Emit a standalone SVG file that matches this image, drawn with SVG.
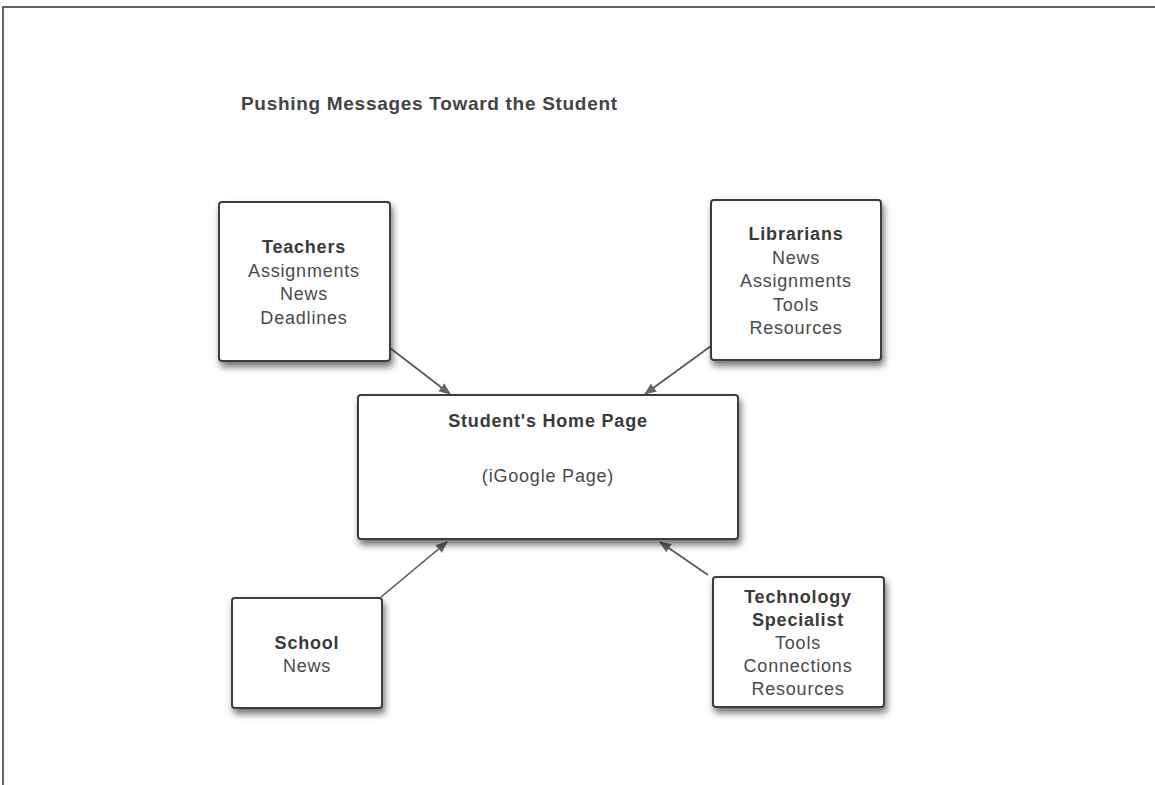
<svg xmlns="http://www.w3.org/2000/svg" width="1155" height="785" viewBox="0 0 1155 785">
  <style>
    .box { fill: #ffffff; stroke: #3c3c3c; stroke-width: 2; filter: url(#shadow); }
    .t { font-family: "Liberation Sans", Arial, sans-serif; font-size: 18px; letter-spacing: 0.8px; fill: #4a4a4a; text-anchor: middle; }
    .b { font-weight: bold; fill: #3a3a3a; }
    .title { font-family: "Liberation Sans", Arial, sans-serif; font-size: 19px; font-weight: bold; letter-spacing: 0.7px; fill: #444444; }
    .conn { stroke: #555555; stroke-width: 1.6; fill: none; marker-end: url(#arrow); }
  </style>
  <defs>
    <filter id="shadow" x="-10%" y="-10%" width="130%" height="140%">
      <feDropShadow dx="2" dy="5" stdDeviation="3.5" flood-color="#000000" flood-opacity="0.55"/>
    </filter>
    <marker id="arrow" viewBox="0 0 12 10" refX="11" refY="5" markerWidth="12" markerHeight="10" markerUnits="userSpaceOnUse" orient="auto">
      <path d="M0,0 L12,5 L0,10 Z" fill="#666666"/>
    </marker>
  </defs>
  <rect x="0" y="0" width="1155" height="785" fill="#ffffff"/>
  <rect x="3" y="7" width="1170" height="800" fill="none" stroke="#333333" stroke-width="1.5"/>
  <text class="title" x="241" y="110">Pushing Messages Toward the Student</text>

  <g id="connectors">
    <line class="conn" x1="390" y1="348" x2="450" y2="394"/>
    <line class="conn" x1="711" y1="346" x2="645" y2="394"/>
    <line class="conn" x1="381" y1="597" x2="447" y2="542"/>
    <line class="conn" x1="708" y1="575" x2="660" y2="542"/>
  </g>

  <g id="teachers">
    <rect class="box" x="219" y="202" width="171" height="159" rx="3"/>
    <text class="t b" x="304" y="253">Teachers</text>
    <text class="t" x="304" y="277">Assignments</text>
    <text class="t" x="304" y="300">News</text>
    <text class="t" x="304" y="324">Deadlines</text>
  </g>

  <g id="librarians">
    <rect class="box" x="711" y="200" width="170" height="160" rx="3"/>
    <text class="t b" x="796" y="240">Librarians</text>
    <text class="t" x="796" y="263.5">News</text>
    <text class="t" x="796" y="287">Assignments</text>
    <text class="t" x="796" y="310.5">Tools</text>
    <text class="t" x="796" y="334">Resources</text>
  </g>

  <g id="student">
    <rect class="box" x="358" y="395" width="380" height="144" rx="3"/>
    <text class="t b" x="548" y="427">Student's Home Page</text>
    <text class="t" x="548" y="482">(iGoogle Page)</text>
  </g>

  <g id="school">
    <rect class="box" x="232" y="598" width="150" height="110" rx="3"/>
    <text class="t b" x="307" y="649">School</text>
    <text class="t" x="307" y="672">News</text>
  </g>

  <g id="technology">
    <rect class="box" x="713" y="577" width="171" height="130" rx="3"/>
    <text class="t b" x="798" y="603">Technology</text>
    <text class="t b" x="798" y="626">Specialist</text>
    <text class="t" x="798" y="649">Tools</text>
    <text class="t" x="798" y="672">Connections</text>
    <text class="t" x="798" y="695">Resources</text>
  </g>
</svg>
